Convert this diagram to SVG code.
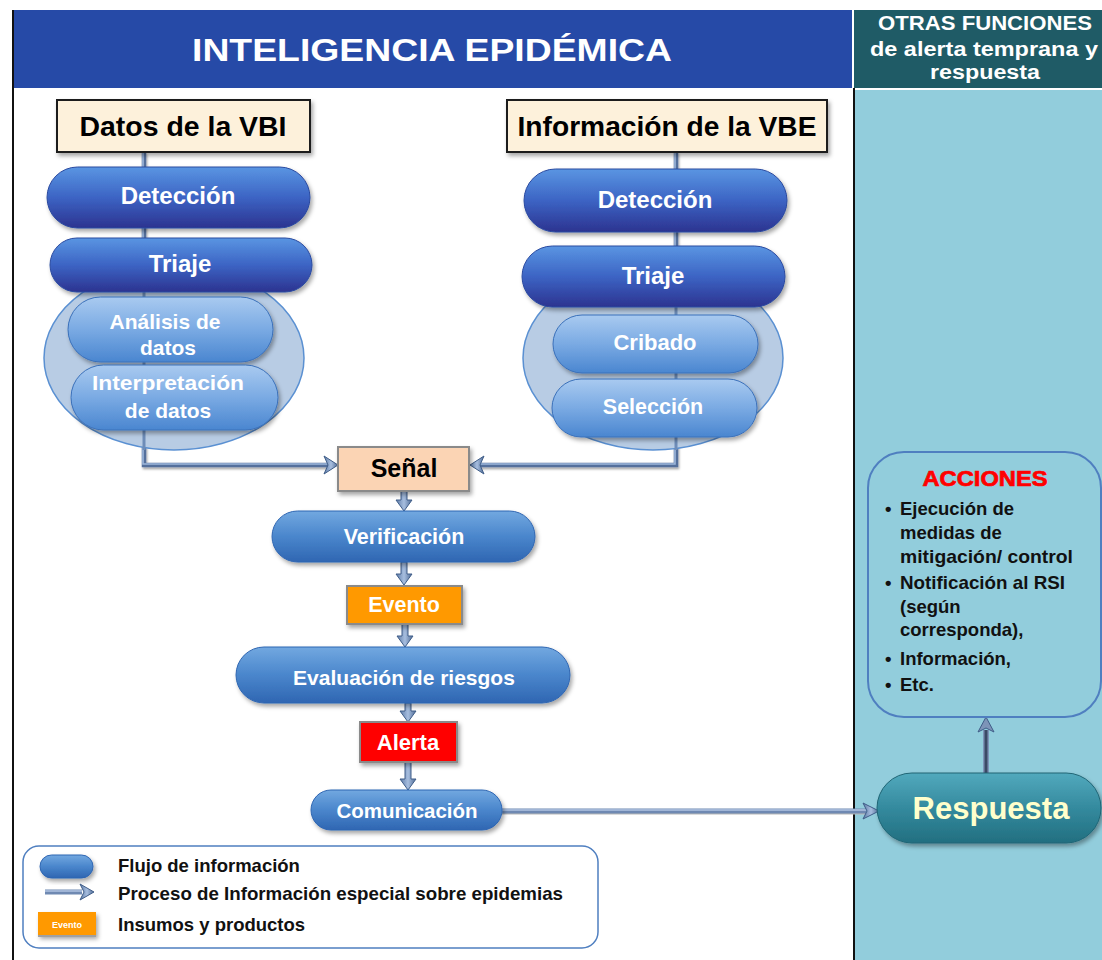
<svg xmlns="http://www.w3.org/2000/svg" width="1102" height="960" viewBox="0 0 1102 960">
<defs>
<linearGradient id="gDark" x1="0" y1="0" x2="0" y2="1"><stop offset="0" stop-color="#5a95e2"/><stop offset="0.5" stop-color="#3c64c4"/><stop offset="1" stop-color="#2c3390"/></linearGradient>
<linearGradient id="gLight" x1="0" y1="0" x2="0" y2="1"><stop offset="0" stop-color="#a9caf0"/><stop offset="0.5" stop-color="#7aaae3"/><stop offset="1" stop-color="#4a86d0"/></linearGradient>
<linearGradient id="gMid" x1="0" y1="0" x2="0" y2="1"><stop offset="0" stop-color="#72a8e0"/><stop offset="0.5" stop-color="#4a86cc"/><stop offset="1" stop-color="#2f66b2"/></linearGradient>
<linearGradient id="gTeal" x1="0" y1="0" x2="0" y2="1"><stop offset="0" stop-color="#52a9bd"/><stop offset="0.5" stop-color="#348a9e"/><stop offset="1" stop-color="#226f80"/></linearGradient>
<linearGradient id="gArrowV" x1="0" y1="0" x2="1" y2="0"><stop offset="0" stop-color="#5d7aa6"/><stop offset="0.5" stop-color="#a7bedf"/><stop offset="1" stop-color="#4e6a95"/></linearGradient>
<filter id="sh" x="-10%" y="-20%" width="130%" height="150%"><feDropShadow dx="2" dy="3" stdDeviation="2" flood-color="#000" flood-opacity="0.35"/></filter>
<filter id="lsh" filterUnits="userSpaceOnUse" x="0" y="0" width="1102" height="960"><feDropShadow dx="1" dy="2" stdDeviation="1.2" flood-color="#000" flood-opacity="0.35"/></filter>
<style>
.pillD{fill:url(#gDark);stroke:#2a4aa0;stroke-width:1;filter:url(#sh)}
.pillL{fill:url(#gLight);stroke:#3a70ba;stroke-width:1;filter:url(#sh)}
.pillM{fill:url(#gMid);stroke:#2f66b2;stroke-width:1;filter:url(#sh)}
.oval{fill:#b8cce4;stroke:#5a90d2;stroke-width:1.5}
.wt{font-family:"Liberation Sans",Arial,sans-serif;font-weight:bold;fill:#ffffff;text-anchor:middle}
.hd{font-family:"Liberation Sans",Arial,sans-serif;font-weight:bold;fill:#ffffff;text-anchor:middle}
.bk{font-family:"Liberation Sans",Arial,sans-serif;font-weight:bold;fill:#000000;text-anchor:middle}
.src{fill:#fdf1db;stroke:#1a1a1a;stroke-width:2;filter:url(#sh)}
.box{stroke:#8a8a8a;stroke-width:2;filter:url(#sh)}
.acc{font-family:"Liberation Sans",Arial,sans-serif;font-weight:bold;fill:#111111;font-size:18.5px}
.leg{font-family:"Liberation Sans",Arial,sans-serif;font-weight:bold;fill:#111111;font-size:18.5px}
.lineO{fill:none;stroke:#54709c;stroke-width:4.5;filter:url(#lsh)}
.lineI{fill:none;stroke:#9fb8dc;stroke-width:1.6}
.arr{fill:url(#gArrowV);stroke:#3f5d88;stroke-width:1}
</style>
</defs>

<!-- background panels -->
<rect x="0" y="0" width="1102" height="960" fill="#ffffff"/>
<rect x="855" y="90" width="247" height="870" fill="#92cddc"/>
<line x1="13" y1="10" x2="13" y2="960" stroke="#111" stroke-width="2"/>
<line x1="854" y1="88" x2="854" y2="960" stroke="#111" stroke-width="2"/>

<g id="header-main">
<rect x="14" y="10" width="838" height="78" fill="#264aa7"/>
<text x="432" y="61" class="hd" font-size="32" textLength="480" lengthAdjust="spacingAndGlyphs">INTELIGENCIA EPIDÉMICA</text>
</g>
<g id="header-right">
<rect x="854" y="10" width="248" height="78" fill="#1f5b66"/>
<text x="985" y="30" class="hd" font-size="20" textLength="214" lengthAdjust="spacingAndGlyphs">OTRAS FUNCIONES</text>
<text x="984" y="56" class="hd" font-size="20" textLength="228" lengthAdjust="spacingAndGlyphs">de alerta temprana y</text>
<text x="985" y="79" class="hd" font-size="20" textLength="110" lengthAdjust="spacingAndGlyphs">respuesta</text>
</g>

<!-- connectors (lines behind nodes) -->
<g id="connectors">
<path class="lineO" d="M144,152 V465 H330"/>
<path class="lineI" d="M143,152 V464 H330"/>
<path class="lineO" d="M676,152 V465 H478"/>
<path class="lineI" d="M675,152 V464 H478"/>
<polygon class="arr" points="324,456 338,465 324,474 328,465"/>
<polygon class="arr" points="484,456 470,465 484,474 480,465"/>
<!-- vertical arrows center column -->
<polygon class="arr" points="401,491 407,491 407,500 412,500 404,511 396,500 401,500"/>
<polygon class="arr" points="401,562 407,562 407,574 412,574 404,585 396,574 401,574"/>
<polygon class="arr" points="402,624 408,624 408,636 413,636 405,647 397,636 402,636"/>
<polygon class="arr" points="405,703 411,703 411,711 416,711 408,722 400,711 405,711"/>
<polygon class="arr" points="405,762 411,762 411,779 416,779 408,790 400,779 405,779"/>
<!-- Comunicacion to Respuesta -->
<line x1="502" y1="813" x2="866" y2="813" stroke="#b8b8b8" stroke-width="3"/>
<line x1="502" y1="811" x2="866" y2="811" stroke="#6f89b2" stroke-width="5"/>
<line x1="502" y1="810" x2="866" y2="810" stroke="#b0c4e2" stroke-width="1.6"/>
<polygon class="arr" points="863,803 879,811 863,819 867,811"/>
<!-- Respuesta to Acciones -->
<line x1="986" y1="773" x2="986" y2="730" stroke="#7d94b8" stroke-width="6"/>
<line x1="986" y1="773" x2="986" y2="730" stroke="#3b4a66" stroke-width="3"/>
<polygon points="978,732 986,717 994,732 986,728" fill="#7d94b8" stroke="#3f5d88" stroke-width="1"/>
</g>

<!-- source boxes -->
<g id="datos-vbi">
<rect x="57" y="100" width="253" height="52" class="src"/>
<text x="183" y="136" class="bk" font-size="28" textLength="207" lengthAdjust="spacingAndGlyphs">Datos de la VBI</text>
</g>
<g id="info-vbe">
<rect x="507" y="100" width="320" height="52" class="src"/>
<text x="667" y="136" class="bk" font-size="28" textLength="299" lengthAdjust="spacingAndGlyphs">Información de la VBE</text>
</g>

<!-- ovals -->
<g id="oval-left"><ellipse cx="174" cy="358" rx="130" ry="92" class="oval"/></g>
<g id="oval-right"><ellipse cx="653" cy="358" rx="130" ry="92" class="oval"/></g>
<line x1="144" y1="290" x2="144" y2="450" stroke="#6d8cb8" stroke-width="3"/>
<line x1="676" y1="300" x2="676" y2="450" stroke="#6d8cb8" stroke-width="3"/>

<!-- left column -->
<g id="deteccion-vbi">
<rect x="47" y="167" width="263" height="61" rx="30.5" class="pillD"/>
<text x="178" y="204" class="wt" font-size="24">Detección</text>
</g>
<g id="triaje-vbi">
<rect x="50" y="238" width="262" height="54" rx="27" class="pillD"/>
<text x="180" y="272" class="wt" font-size="24">Triaje</text>
</g>
<g id="analisis">
<rect x="68" y="297" width="205" height="65" rx="32.5" class="pillL"/>
<text x="165" y="329" class="wt" font-size="21">Análisis de</text>
<text x="168" y="355" class="wt" font-size="21">datos</text>
</g>
<g id="interpretacion">
<rect x="71" y="365" width="207" height="65" rx="32.5" class="pillL"/>
<text x="168" y="390" class="wt" font-size="21" textLength="152" lengthAdjust="spacingAndGlyphs">Interpretación</text>
<text x="168" y="418" class="wt" font-size="21">de datos</text>
</g>

<!-- right column -->
<g id="deteccion-vbe">
<rect x="524" y="169" width="263" height="63" rx="31.5" class="pillD"/>
<text x="655" y="208" class="wt" font-size="24">Detección</text>
</g>
<g id="triaje-vbe">
<rect x="522" y="246" width="263" height="61" rx="30.5" class="pillD"/>
<text x="653" y="284" class="wt" font-size="24">Triaje</text>
</g>
<g id="cribado">
<rect x="553" y="315" width="205" height="58" rx="29" class="pillL"/>
<text x="655" y="350" class="wt" font-size="22">Cribado</text>
</g>
<g id="seleccion">
<rect x="552" y="379" width="205" height="58" rx="29" class="pillL"/>
<text x="653" y="414" class="wt" font-size="21.5">Selección</text>
</g>

<!-- center column -->
<g id="senal">
<rect x="338" y="447" width="131" height="44" fill="#fbd4b4" class="box"/>
<text x="404" y="477" class="bk" font-size="25">Señal</text>
</g>
<g id="verificacion">
<rect x="272" y="511" width="263" height="51" rx="25.5" class="pillM"/>
<text x="404" y="544" class="wt" font-size="21.5">Verificación</text>
</g>
<g id="evento">
<rect x="347" y="586" width="115" height="38" fill="#ff9900" class="box"/>
<text x="404" y="612" class="wt" font-size="21.5">Evento</text>
</g>
<g id="evaluacion">
<rect x="236" y="647" width="334" height="56" rx="28" class="pillM"/>
<text x="404" y="685" class="wt" font-size="21">Evaluación de riesgos</text>
</g>
<g id="alerta">
<rect x="360" y="722" width="97" height="40" fill="#ff0000" class="box"/>
<text x="408" y="750" class="wt" font-size="22">Alerta</text>
</g>
<g id="comunicacion">
<rect x="311" y="790" width="191" height="40" rx="20" class="pillM"/>
<text x="407" y="818" class="wt" font-size="20.5">Comunicación</text>
</g>

<!-- right panel nodes -->
<g id="acciones">
<rect x="868" y="452" width="233" height="265" rx="36" fill="#92cddc" stroke="#4f7fc0" stroke-width="2"/>
<text x="985" y="486" font-family="Liberation Sans,Arial,sans-serif" font-weight="bold" font-size="22" fill="#ff0000" stroke="#ff0000" stroke-width="0.7" text-anchor="middle" textLength="125" lengthAdjust="spacingAndGlyphs">ACCIONES</text>
<text x="885" y="515" class="acc">•</text>
<text x="900" y="515" class="acc" textLength="114" lengthAdjust="spacingAndGlyphs">Ejecución de</text>
<text x="900" y="539" class="acc">medidas de</text>
<text x="900" y="563" class="acc" textLength="173" lengthAdjust="spacingAndGlyphs">mitigación/ control</text>
<text x="885" y="589" class="acc">•</text>
<text x="900" y="589" class="acc" textLength="165" lengthAdjust="spacingAndGlyphs">Notificación al RSI</text>
<text x="900" y="613" class="acc">(según</text>
<text x="900" y="636" class="acc">corresponda),</text>
<text x="885" y="665" class="acc">•</text>
<text x="900" y="665" class="acc">Información,</text>
<text x="885" y="691" class="acc">•</text>
<text x="900" y="691" class="acc">Etc.</text>
</g>
<g id="respuesta">
<rect x="877" y="773" width="224" height="70" rx="35" fill="url(#gTeal)" stroke="#1f6575" stroke-width="1" filter="url(#sh)"/>
<text x="991" y="819" font-family="Liberation Sans,Arial,sans-serif" font-weight="bold" font-size="31" fill="#ffffcc" text-anchor="middle">Respuesta</text>
</g>

<!-- legend -->
<g id="legend">
<rect x="23" y="846" width="575" height="102" rx="16" fill="#ffffff" stroke="#4f7fc0" stroke-width="1.5"/>
<rect x="40" y="855" width="53" height="23" rx="11.5" class="pillM"/>
<line x1="45" y1="892" x2="82" y2="892" stroke="#6f89b2" stroke-width="5"/>
<line x1="45" y1="891" x2="82" y2="891" stroke="#b0c4e2" stroke-width="1.6"/>
<polygon class="arr" points="80,884 94,892 80,900 84,892"/>
<rect x="38" y="912" width="58" height="24" fill="#ff9900" filter="url(#sh)"/>
<line x1="38" y1="936" x2="96" y2="936" stroke="#a0a0a0" stroke-width="2"/>
<text x="67" y="928" class="wt" font-size="9">Evento</text>
<text x="118" y="872" class="leg">Flujo de información</text>
<text x="118" y="900" class="leg" textLength="445" lengthAdjust="spacingAndGlyphs">Proceso de Información especial sobre epidemias</text>
<text x="118" y="931" class="leg">Insumos y productos</text>
</g>
</svg>
